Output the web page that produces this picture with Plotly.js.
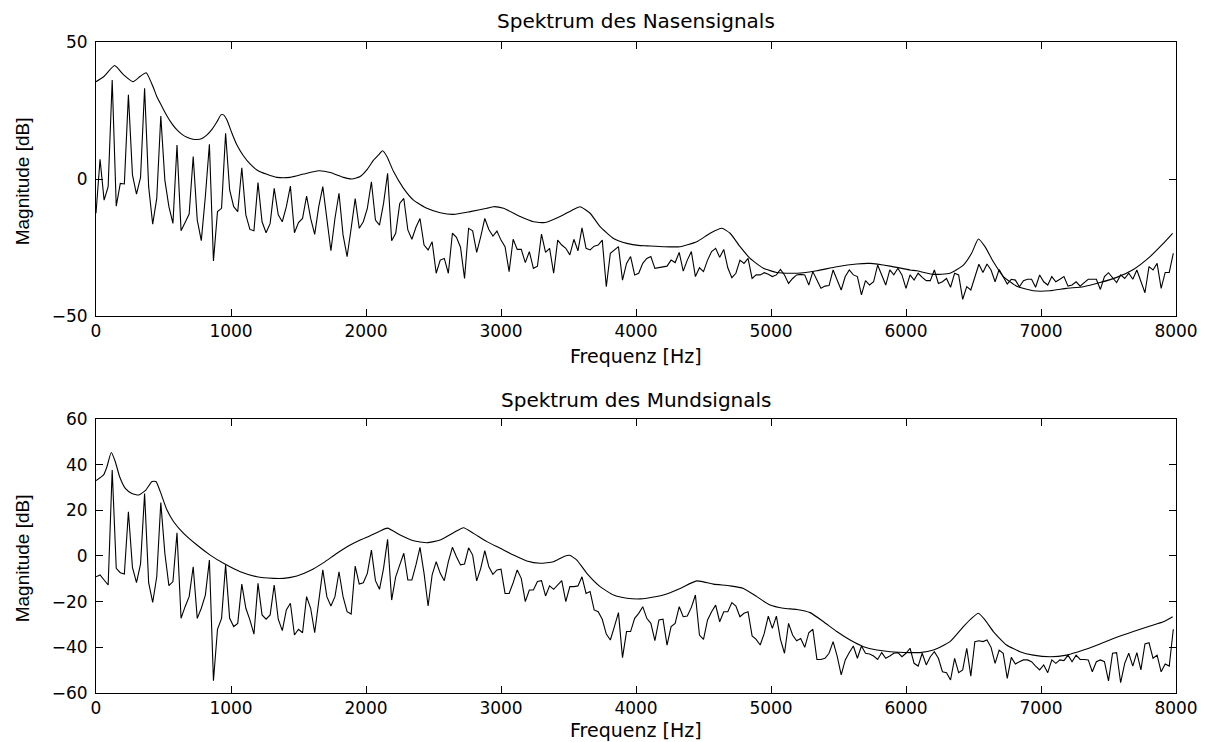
<!DOCTYPE html>
<html>
<head>
<meta charset="utf-8">
<script src="https://cdn.plot.ly/plotly-3.0.1.min.js"></script>
<style>html,body{margin:0;padding:0;background:#fff;}#chart{width:1206px;height:742px;}</style>
</head>
<body>
<div id="chart"></div>
<script>
// Frequency grid of the spectra: first bin and bin spacing [Hz]
const specStartHz = 0;
const specStepHz = 30;

// Spektrum des Nasensignals (jagged spectrum, dB)
const nasalSpectrum = [
  -12.5, 7.2, -7.7, -2.8, 36.1, -9.9, -1.6, -1.8, 30.7, 1.5,
  -5.5, 0.6, 33.1, -2.8, -16.5, -7.1, 23.0, -0.4, -10.1, -16.2,
  12.4, -18.9, -15.9, -12.8, 8.2, -15.0, -22.5, -6.4, 12.7, -29.9,
  -11.9, -10.7, 16.7, -4.0, -10.1, -11.9, 4.1, -13.1, -18.4, -18.9,
  -1.3, -15.6, -19.6, -16.2, -3.4, -13.1, -15.6, -10.1, -2.6, -19.6,
  -15.9, -14.4, -6.2, -14.4, -20.2, -10.1, -2.8, -15.0, -26.2, -14.4,
  -5.2, -20.4, -28.3, -18.0, -7.1, -18.0, -15.6, -10.7, -1.0,
  -15.0, -16.8, -8.9, 2.1, -22.5, -19.8, -8.9, -7.1, -18.6, -22.0,
  -17.6, -14.4, -24.1, -25.9, -22.9, -34.4, -29.6, -29.0, -34.4, -19.8,
  -21.3, -24.9, -36.3, -18.0, -18.9, -26.8, -21.0, -14.4, -18.4, -20.8,
  -19.0, -22.3, -24.7, -33.8, -22.0, -25.7, -25.7, -30.5, -26.5, -32.6,
  -31.8, -20.1, -26.8, -25.3, -34.4, -22.3, -24.1, -25.3, -27.7, -22.0,
  -26.2, -17.8, -25.3, -25.9, -24.5, -24.1, -22.3, -39.3, -27.1, -25.9,
  -24.7, -36.9, -30.8, -28.3, -35.0, -34.4,
  -30.8, -29.0, -28.3, -32.6, -32.4, -32.0, -31.8, -29.6, -30.5, -26.8,
  -33.6, -29.6, -26.5, -35.6, -32.4, -33.8, -29.6, -26.5, -25.3, -28.6,
  -25.7, -32.4, -36.0, -34.4, -29.6, -30.8, -29.0, -36.3, -35.0, -35.0,
  -34.2, -34.8, -35.6, -35.0, -33.0, -35.0, -38.1, -36.3, -35.0, -34.8,
  -35.0, -38.7, -33.8, -36.9, -39.9, -39.1, -38.9, -33.2, -36.6, -40.5,
  -35.6, -33.2, -35.0, -35.6, -42.3, -37.1, -38.7, -37.5, -31.4, -35.0,
  -38.7, -33.2, -35.0, -32.6, -35.0, -39.9, -35.0,
  -36.9, -34.4, -35.9, -37.1, -37.1, -33.2, -38.1, -37.5, -36.3, -39.5,
  -34.4, -35.0, -43.9, -39.3, -40.5, -35.6, -31.1, -34.1, -31.0, -33.2,
  -37.5, -33.0, -35.6, -38.3, -36.6, -36.9, -39.3, -37.1, -36.6, -36.6,
  -39.5, -35.0, -37.5, -38.7, -35.6, -37.5, -36.6, -35.6, -39.1, -38.7,
  -37.5, -39.1, -37.8, -36.6, -36.6, -36.6, -40.3, -35.6, -34.2, -35.9,
  -37.8, -35.0, -36.3, -34.4, -36.6, -33.2, -37.5, -41.5, -32.0, -33.2,
  -30.8, -39.9, -34.1, -34.1, -27.1
];

// Spektrum des Mundsignals (jagged spectrum, dB)
const oralSpectrum = [
  -9.1, -8.3, -10.5, -12.7, 37.7, -5.4, -7.3, -7.9, 19.4, -5.0,
  -11.7, -3.5, 27.4, -11.7, -20.3, -9.1, 23.4, 1.2, -13.0, -11.2,
  10.2, -27.3, -22.2, -17.8, -4.7, -27.3, -22.9, -17.1, -1.8, -54.6,
  -32.1, -27.3, -3.9, -27.3, -30.9, -29.5, -12.3, -22.9, -28.0, -34.2,
  -12.0, -25.8, -27.7, -25.8, -12.7, -27.7, -32.7, -23.6, -20.7, -34.6,
  -32.1, -33.6, -17.8, -22.9, -33.6, -19.3, -6.1, -17.8, -21.9, -17.8,
  -6.9, -17.8, -24.4, -25.4, -4.4, -12.3, -11.7, -7.6, 2.6,
  -10.8, -14.6, -5.4, 7.3, -19.3, -9.1, -3.9, 1.2, -10.5, -10.5,
  -3.9, 3.8, -7.6, -21.9, -8.3, -2.5, -7.6, -10.8, -2.5, 3.8,
  -0.3, -3.9, -3.5, 3.6, 0.4, -10.9, -5.4, 2.3, -4.7, -8.0,
  -6.1, -5.8, -16.4, -16.4, -11.7, -6.1, -9.8, -20.0, -14.9, -14.9,
  -11.2, -10.8, -17.5, -13.1, -14.6, -12.7, -10.8, -20.0, -13.4, -13.4,
  -13.1, -9.1, -16.4, -15.6, -23.6, -24.4, -27.7, -34.2, -36.8, -30.9,
  -24.8, -44.5, -33.1, -33.1, -27.3, -25.1,
  -22.2, -27.3, -29.5, -37.1, -28.0, -27.7, -39.0, -30.9, -29.5, -22.2,
  -26.6, -26.3, -22.5, -17.1, -34.6, -36.5, -28.0, -24.4, -21.5, -28.8,
  -24.4, -24.4, -20.4, -21.9, -26.6, -25.1, -24.4, -35.0, -36.5, -39.0,
  -33.9, -26.3, -31.7, -26.3, -36.5, -42.6, -29.5, -34.6, -37.1, -36.1,
  -40.0, -33.6, -32.1, -45.3, -45.3, -44.8, -42.6, -37.5, -43.8, -52.1,
  -45.5, -42.3, -39.4, -44.8, -39.4, -42.6, -42.9, -43.8, -45.3, -42.3,
  -44.8, -43.8, -42.6, -42.3, -44.1, -42.6, -40.4,
  -47.0, -48.2, -42.6, -47.7, -44.1, -41.9, -44.8, -50.7, -51.1, -54.3,
  -44.8, -51.1, -49.9, -40.4, -52.6, -37.5, -37.1, -37.5, -36.8, -40.0,
  -47.0, -41.2, -42.6, -53.6, -44.4, -47.3, -46.3, -45.5, -45.5, -46.3,
  -48.2, -49.9, -47.7, -51.1, -45.5, -47.0, -45.5, -45.8, -43.4, -46.3,
  -43.4, -45.3, -45.3, -45.5, -50.7, -46.3, -45.5, -46.3, -54.7, -42.6,
  -42.3, -55.5, -47.0, -42.6, -48.2, -42.3, -49.9, -38.5, -38.0, -44.8,
  -43.4, -50.7, -47.3, -48.2, -32.1
];

// Smooth envelope of the nasal spectrum
const nasalEnvFreq = [0, 56, 138, 205, 274, 328, 372, 427, 451, 489, 526, 563, 600, 637, 674, 711, 748, 785, 822, 859,
  896, 925, 945, 970, 1007, 1044, 1093, 1143, 1192, 1266, 1340, 1439, 1538, 1649, 1735, 1834, 1896, 1957, 2006, 2056,
  2093, 2123, 2155, 2204, 2278, 2352, 2451, 2549, 2648, 2772, 2895, 2945, 3019, 3142, 3241, 3327, 3438, 3537, 3586, 3660,
  3734, 3834, 3932, 4031, 4080, 4203, 4327, 4450, 4549, 4636, 4697, 4771, 4845, 4944, 5043, 5142, 5240, 5339, 5487, 5635,
  5734, 5882, 6030, 6079, 6203, 6326, 6425, 6486, 6536, 6585, 6647, 6721, 6820, 6943, 7067, 7190, 7314, 7437, 7561, 7684,
  7808, 7906, 7975];
const nasalEnvDb = [35.5, 37.3, 41.4, 38.0, 35.5, 37.5, 38.8, 33.1, 30.0, 26.4, 23.0, 20.1, 17.9, 16.3, 15.2, 14.6, 14.4, 14.8, 16.1, 18.1,
  20.9, 23.4, 23.4, 21.5, 16.7, 12.4, 8.4, 5.4, 3.3, 1.7, 0.6, 0.6, 1.8, 3.0, 2.4, 0.6, 0.0, 0.9, 3.3, 6.9,
  8.8, 10.3, 8.2, 2.7, -3.4, -7.7, -10.7, -12.3, -12.9, -11.9, -10.7, -10.1, -10.7, -13.7, -15.6, -15.9, -13.7, -11.1, -10.1, -12.5,
  -17.4, -21.7, -23.5, -24.3, -24.4, -24.7, -24.7, -22.9, -19.8, -18.0, -19.8, -24.7, -29.0, -32.6, -34.1, -34.4, -34.2, -33.5, -32.0, -31.0,
  -30.8, -31.8, -33.2, -33.5, -34.8, -34.4, -31.4, -27.1, -21.9, -24.7, -30.2, -35.6, -39.1, -40.8, -40.8, -39.9, -39.3, -37.8, -35.9, -33.0,
  -28.3, -23.5, -19.8];

// Smooth envelope of the oral spectrum
const oralEnvFreq = [0, 56, 81, 113, 143, 175, 217, 266, 316, 365, 415, 444, 476, 526, 575, 649, 748, 846, 945, 1069,
  1192, 1315, 1390, 1488, 1587, 1686, 1785, 1883, 1957, 2031, 2105, 2159, 2253, 2352, 2451, 2549, 2648, 2722, 2797, 2895,
  2994, 3093, 3191, 3290, 3389, 3463, 3508, 3562, 3636, 3734, 3834, 3932, 4031, 4080, 4203, 4327, 4450, 4574, 4697, 4796,
  4895, 4993, 5092, 5191, 5290, 5389, 5487, 5586, 5685, 5784, 5882, 6030, 6104, 6203, 6326, 6425, 6486, 6536, 6585, 6647,
  6745, 6844, 6943, 7067, 7190, 7314, 7437, 7561, 7684, 7808, 7906, 7975];
const oralEnvDb = [33.0, 35.5, 39.1, 45.3, 41.3, 34.7, 29.6, 27.4, 26.7, 28.6, 32.6, 32.6, 28.2, 20.1, 15.0, 9.9, 4.8, 0.4, -3.2, -6.9,
  -9.1, -9.8, -9.8, -8.8, -6.4, -2.9, 1.2, 4.8, 7.0, 8.9, 11.0, 12.2, 9.2, 6.7, 5.8, 7.0, 10.2, 12.4, 9.9, 6.3,
  3.4, 0.4, -2.2, -3.2, -2.5, -0.3, 0.3, -1.8, -7.6, -13.4, -17.1, -18.5, -18.8, -18.5, -17.1, -14.2, -10.9, -12.3, -13.1, -14.2,
  -17.8, -21.5, -22.9, -23.4, -24.8, -28.8, -33.1, -36.8, -39.7, -41.2, -41.9, -42.3, -42.3, -41.2, -37.5, -30.9, -27.3, -25.1, -28.0, -33.1,
  -39.0, -41.9, -43.4, -44.1, -43.4, -41.2, -38.5, -35.6, -33.1, -30.7, -28.8, -26.6];

// Text
const topTitle = 'Spektrum des Nasensignals';
const bottomTitle = 'Spektrum des Mundsignals';
const xLabel = 'Frequenz [Hz]';
const yLabel = 'Magnitude [dB]';
const xTicks = [0, 1000, 2000, 3000, 4000, 5000, 6000, 7000, 8000];
const topYTicks = [-50, 0, 50];
const bottomYTicks = [-60, -40, -20, 0, 20, 40, 60];

const lineStyle = {color: '#000', width: 1.1};

const traces = [
  {type: 'scatter', mode: 'lines', x0: specStartHz, dx: specStepHz, y: nasalSpectrum, xaxis: 'x', yaxis: 'y', line: lineStyle, hoverinfo: 'skip'},
  {type: 'scatter', mode: 'lines', x: nasalEnvFreq, y: nasalEnvDb, xaxis: 'x', yaxis: 'y', line: Object.assign({shape: 'spline', smoothing: 0.5}, lineStyle), hoverinfo: 'skip'},
  {type: 'scatter', mode: 'lines', x0: specStartHz, dx: specStepHz, y: oralSpectrum, xaxis: 'x2', yaxis: 'y2', line: lineStyle, hoverinfo: 'skip'},
  {type: 'scatter', mode: 'lines', x: oralEnvFreq, y: oralEnvDb, xaxis: 'x2', yaxis: 'y2', line: Object.assign({shape: 'spline', smoothing: 0.5}, lineStyle), hoverinfo: 'skip'}
];

const tickFont = {family: 'DejaVu Sans, sans-serif', size: 17, color: '#000'};
function xAxis(anchor) {
  return {
    anchor: anchor, range: [0, 8000], tickvals: xTicks, ticktext: xTicks.map(String),
    ticks: 'inside', ticklen: 7, tickwidth: 1, tickcolor: '#000',
    showline: true, linecolor: '#000', linewidth: 1, mirror: 'ticks',
    showgrid: false, zeroline: false, tickfont: tickFont, ticklabelstandoff: 0
  };
}
function yAxis(anchor, domain, range, ticks) {
  return {
    anchor: anchor, domain: domain, range: range, tickvals: ticks,
    ticks: 'inside', ticklen: 7, tickwidth: 1, tickcolor: '#000',
    showline: true, linecolor: '#000', linewidth: 1, mirror: 'ticks',
    showgrid: false, zeroline: false, tickfont: tickFont, ticklabelstandoff: 4
  };
}

const titleFont = {family: 'DejaVu Sans, sans-serif', size: 20, color: '#000'};
const xTitleFont = {family: 'DejaVu Sans, sans-serif', size: 19, color: '#000'};
const yTitleFont = {family: 'Liberation Sans, Arial, sans-serif', size: 19, color: '#000'};

const layout = {
  width: 1206, height: 742,
  margin: {l: 96, r: 30, t: 42, b: 49, pad: 0},
  paper_bgcolor: '#fff', plot_bgcolor: '#fff',
  showlegend: false,
  xaxis: xAxis('y'),
  yaxis: yAxis('x', [0.5791, 1], [-50, 50], topYTicks),
  xaxis2: xAxis('y2'),
  yaxis2: yAxis('x2', [0, 0.4209], [-60, 60], bottomYTicks),
  annotations: [
    {text: topTitle, xref: 'paper', yref: 'paper', x: 0.5, y: 1.0323, xanchor: 'center', yanchor: 'middle', showarrow: false, font: titleFont, borderpad: 0},
    {text: xLabel, xref: 'paper', yref: 'paper', x: 0.5, y: 0.5170, xanchor: 'center', yanchor: 'middle', showarrow: false, font: xTitleFont, borderpad: 0},
    {text: bottomTitle, xref: 'paper', yref: 'paper', x: 0.5, y: 0.4501, xanchor: 'center', yanchor: 'middle', showarrow: false, font: titleFont, borderpad: 0},
    {text: xLabel, xref: 'paper', yref: 'paper', x: 0.5, y: -0.0753, xanchor: 'center', yanchor: 'bottom', showarrow: false, font: xTitleFont, borderpad: 0},
    {text: yLabel, xref: 'paper', yref: 'paper', x: -0.0673, y: 0.7865, xanchor: 'center', yanchor: 'middle', textangle: -90, showarrow: false, font: yTitleFont, borderpad: 0},
    {text: yLabel, xref: 'paper', yref: 'paper', x: -0.0673, y: 0.2074, xanchor: 'center', yanchor: 'middle', textangle: -90, showarrow: false, font: yTitleFont, borderpad: 0}
  ]
};

Plotly.newPlot('chart', traces, layout, {staticPlot: true, displayModeBar: false});
</script>
</body>
</html>
